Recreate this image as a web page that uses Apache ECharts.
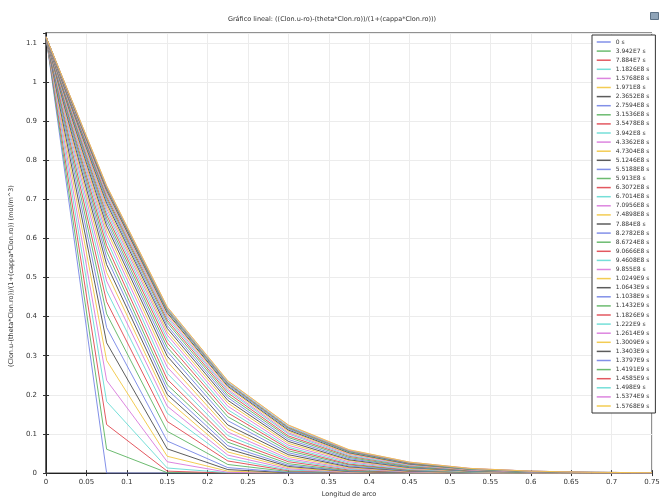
<!DOCTYPE html>
<html>
<head>
<meta charset="utf-8">
<script src="https://cdn.jsdelivr.net/npm/echarts@6/dist/echarts.min.js"></script>
<style>
  html, body { margin: 0; padding: 0; background: #fff; }
  #chart { width: 664px; height: 503px; }
</style>
</head>
<body>
<div id="chart"></div>
<script>
// arc length nodes (x axis)
const arcLength = [0, 0.075, 0.15, 0.225, 0.3, 0.375, 0.45, 0.525, 0.6, 0.675, 0.75];

// legend entries (time)
const timeLabels = [
  '0 s', '3.942E7 s', '7.884E7 s', '1.1826E8 s', '1.5768E8 s', '1.971E8 s', '2.3652E8 s',
  '2.7594E8 s', '3.1536E8 s', '3.5478E8 s', '3.942E8 s', '4.3362E8 s', '4.7304E8 s',
  '5.1246E8 s', '5.5188E8 s', '5.913E8 s', '6.3072E8 s', '6.7014E8 s', '7.0956E8 s',
  '7.4898E8 s', '7.884E8 s', '8.2782E8 s', '8.6724E8 s', '9.0666E8 s', '9.4608E8 s',
  '9.855E8 s', '1.0249E9 s', '1.0643E9 s', '1.1038E9 s', '1.1432E9 s', '1.1826E9 s',
  '1.222E9 s', '1.2614E9 s', '1.3009E9 s', '1.3403E9 s', '1.3797E9 s', '1.4191E9 s',
  '1.4585E9 s', '1.498E9 s', '1.5374E9 s', '1.5768E9 s'
];

// one profile per time, values at the arc length nodes
const profiles = [
  [1.115, 0, 0, 0, 0, 0, 0, 0, 0, 0, 0],
  [1.115, 0.061, 0.001, 0, 0, 0, 0, 0, 0, 0, 0],
  [1.115, 0.124, 0.005, 0, 0, 0, 0, 0, 0, 0, 0],
  [1.115, 0.183, 0.013, 0.001, 0, 0, 0, 0, 0, 0, 0],
  [1.115, 0.237, 0.029, 0.002, 0, 0, 0, 0, 0, 0, 0],
  [1.115, 0.288, 0.043, 0.005, 0.001, 0, 0, 0, 0, 0, 0],
  [1.115, 0.333, 0.062, 0.009, 0.001, 0, 0, 0, 0, 0, 0],
  [1.115, 0.372, 0.082, 0.014, 0.002, 0, 0, 0, 0, 0, 0],
  [1.115, 0.407, 0.107, 0.022, 0.004, 0.001, 0, 0, 0, 0, 0],
  [1.115, 0.438, 0.132, 0.031, 0.006, 0.001, 0, 0, 0, 0, 0],
  [1.115, 0.466, 0.153, 0.038, 0.008, 0.002, 0, 0, 0, 0, 0],
  [1.115, 0.491, 0.171, 0.046, 0.011, 0.002, 0.001, 0, 0, 0, 0],
  [1.115, 0.513, 0.187, 0.054, 0.014, 0.003, 0.001, 0, 0, 0, 0],
  [1.115, 0.533, 0.201, 0.062, 0.017, 0.004, 0.001, 0, 0, 0, 0],
  [1.115, 0.551, 0.214, 0.070, 0.020, 0.005, 0.002, 0, 0, 0, 0],
  [1.115, 0.567, 0.226, 0.079, 0.024, 0.006, 0.002, 0.001, 0, 0, 0],
  [1.115, 0.582, 0.240, 0.087, 0.029, 0.008, 0.002, 0.001, 0, 0, 0],
  [1.115, 0.596, 0.255, 0.096, 0.033, 0.010, 0.003, 0.001, 0, 0, 0],
  [1.115, 0.609, 0.271, 0.105, 0.037, 0.012, 0.003, 0.001, 0, 0, 0],
  [1.115, 0.621, 0.285, 0.114, 0.042, 0.014, 0.004, 0.001, 0, 0, 0],
  [1.115, 0.632, 0.299, 0.123, 0.047, 0.016, 0.005, 0.002, 0.001, 0, 0],
  [1.115, 0.642, 0.311, 0.134, 0.052, 0.018, 0.006, 0.002, 0.001, 0, 0],
  [1.115, 0.651, 0.322, 0.144, 0.057, 0.021, 0.007, 0.002, 0.001, 0, 0],
  [1.115, 0.660, 0.333, 0.154, 0.062, 0.023, 0.008, 0.003, 0.001, 0, 0],
  [1.115, 0.668, 0.343, 0.162, 0.066, 0.026, 0.009, 0.003, 0.001, 0, 0],
  [1.115, 0.676, 0.353, 0.171, 0.071, 0.029, 0.011, 0.004, 0.001, 0, 0],
  [1.115, 0.683, 0.361, 0.179, 0.076, 0.032, 0.012, 0.004, 0.001, 0, 0],
  [1.115, 0.690, 0.370, 0.186, 0.081, 0.034, 0.014, 0.005, 0.002, 0.001, 0],
  [1.115, 0.696, 0.377, 0.193, 0.086, 0.037, 0.015, 0.005, 0.002, 0.001, 0],
  [1.115, 0.702, 0.385, 0.199, 0.091, 0.040, 0.016, 0.006, 0.002, 0.001, 0],
  [1.115, 0.707, 0.391, 0.205, 0.095, 0.043, 0.018, 0.007, 0.003, 0.001, 0],
  [1.115, 0.712, 0.397, 0.210, 0.100, 0.045, 0.019, 0.008, 0.003, 0.001, 0],
  [1.115, 0.716, 0.402, 0.214, 0.103, 0.048, 0.021, 0.008, 0.003, 0.001, 0],
  [1.115, 0.720, 0.407, 0.219, 0.107, 0.050, 0.022, 0.009, 0.004, 0.001, 0.001],
  [1.115, 0.723, 0.410, 0.222, 0.110, 0.052, 0.023, 0.010, 0.004, 0.001, 0.001],
  [1.115, 0.726, 0.414, 0.225, 0.113, 0.054, 0.024, 0.010, 0.004, 0.002, 0.001],
  [1.115, 0.728, 0.416, 0.228, 0.115, 0.055, 0.025, 0.010, 0.004, 0.002, 0.001],
  [1.115, 0.730, 0.419, 0.230, 0.117, 0.057, 0.026, 0.011, 0.005, 0.002, 0.001],
  [1.115, 0.732, 0.421, 0.232, 0.119, 0.058, 0.027, 0.011, 0.005, 0.002, 0.001],
  [1.115, 0.734, 0.424, 0.235, 0.122, 0.059, 0.028, 0.012, 0.005, 0.002, 0.001],
  [1.115, 0.735, 0.425, 0.236, 0.123, 0.060, 0.028, 0.012, 0.005, 0.002, 0.001]
];

// comsol style colour cycle
const colors = ['#7484e6', '#5cb460', '#e0464f', '#66dcd4', '#d878dc', '#f2c640', '#4a4a4a'];

var chart = echarts.init(document.getElementById('chart'));

var series = profiles.map(function (vals, i) {
  return {
    name: timeLabels[i],
    type: 'line',
    symbol: 'none',
    animation: false,
    lineStyle: { width: 1, color: colors[i % colors.length], opacity: 0.9 },
    itemStyle: { color: colors[i % colors.length] },
    data: arcLength.map(function (x, j) { return [x, vals[j]]; })
  };
});

var labelFont = { fontSize: 7, color: '#333', fontFamily: 'DejaVu Sans' };

var option = {
  backgroundColor: '#fff',
  animation: false,
  title: {
    text: 'Gráfico lineal: ((Clon.u-ro)-(theta*Clon.ro))/(1+(cappa*Clon.ro)))',
    left: 'center',
    top: 11,
    textStyle: { fontSize: 6.5, fontWeight: 'normal', color: '#333', fontFamily: 'DejaVu Sans' }
  },
  grid: {
    left: 38, right: 12, top: 33, bottom: 22,
    show: true, borderColor: '#222', borderWidth: 1
  },
  legend: {
    orient: 'vertical',
    left: 592,
    top: 35,
    width: 63,
    padding: [4, 6, 4, 4],
    itemGap: 3.1,
    itemWidth: 14,
    itemHeight: 6,
    backgroundColor: '#fff',
    borderColor: '#333',
    borderWidth: 1,
    itemStyle: { opacity: 0 },
    lineStyle: { width: 1.5 },
    textStyle: { fontSize: 6, lineHeight: 6, color: '#333', fontFamily: 'DejaVu Sans' },
    data: timeLabels
  },
  graphic: [{
    type: 'rect', right: 5, top: 12,
    shape: { width: 8, height: 7 },
    style: { fill: '#8fa4b8', stroke: '#5d7286' }
  }],
  xAxis: [{
    type: 'value',
    min: 0, max: 0.75, interval: 0.05,
    name: 'Longitud de arco',
    nameLocation: 'middle',
    nameGap: 15,
    nameTextStyle: { fontSize: 6.5, color: '#333', fontFamily: 'DejaVu Sans' },
    axisLine: { show: true, onZero: false, lineStyle: { color: '#666', width: 1 } },
    axisTick: { show: true, inside: true, length: 3, lineStyle: { color: '#333' } },
    axisLabel: Object.assign({ margin: 6 }, labelFont),
    splitLine: { show: true, lineStyle: { color: '#ececec', width: 1 } }
  }, {
    type: 'value', position: 'top',
    min: 0, max: 0.75, interval: 0.05,
    axisLine: { show: true, lineStyle: { color: '#222' } },
    axisTick: { show: true, inside: true, length: 3, lineStyle: { color: '#333' } },
    axisLabel: { show: false },
    splitLine: { show: false }
  }],
  yAxis: [{
    type: 'value',
    min: 0, max: 1.125, interval: 0.1,
    name: '(Clon.u-(theta*Clon.ro))/(1+(cappa*Clon.ro)) (mol/m^3)',
    nameLocation: 'middle',
    nameGap: 26,
    nameTextStyle: { fontSize: 6.5, color: '#333', fontFamily: 'DejaVu Sans', padding: [0, 46, 0, 0] },
    axisLine: { show: true, onZero: false, lineStyle: { color: '#666', width: 2 } },
    axisTick: { show: true, inside: true, length: 3, lineStyle: { color: '#333' } },
    axisLabel: Object.assign({ margin: 9, showMaxLabel: false,
      formatter: function (v) { return Math.abs(v - 1.125) < 1e-9 ? '' : String(+v.toFixed(2)); }
    }, labelFont),
    splitLine: { show: true, lineStyle: { color: '#ececec', width: 1 } }
  }, {
    type: 'value', position: 'right',
    min: 0, max: 1.125, interval: 0.1,
    axisLine: { show: true, lineStyle: { color: '#222' } },
    axisTick: { show: true, inside: true, length: 3, lineStyle: { color: '#333' } },
    axisLabel: { show: false },
    splitLine: { show: false }
  }],
  series: series
};

option && chart.setOption(option);
</script>
</body>
</html>
